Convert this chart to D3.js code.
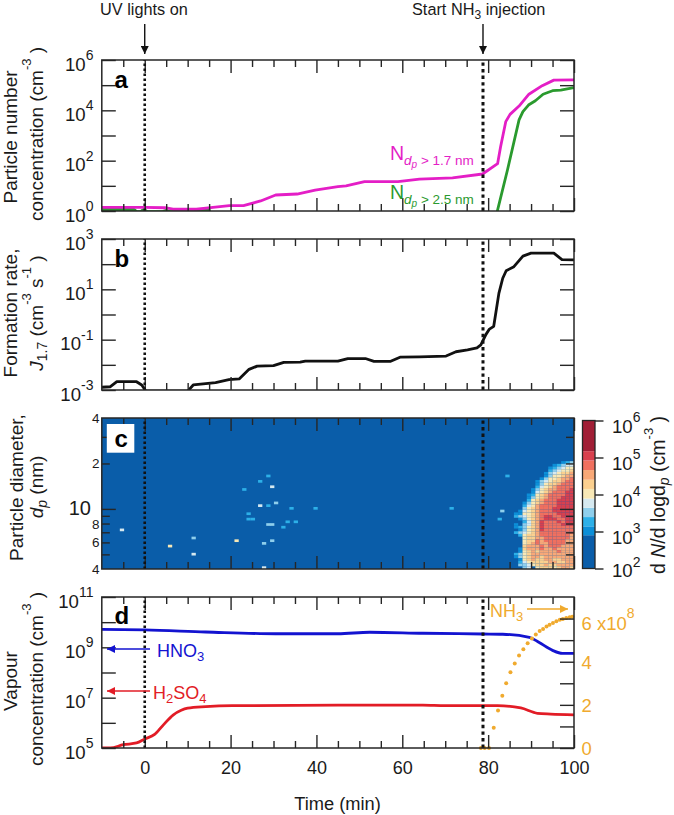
<!DOCTYPE html>
<html>
<head>
<meta charset="utf-8">
<script src="https://cdn.jsdelivr.net/npm/d3@7"></script>
<style>
  html, body { margin: 0; padding: 0; background: #fff; }
  svg { display: block; }
  text { font-family: "Liberation Sans", Arial, sans-serif; fill: #1a1a1a; }
  .tick line, .frame { stroke: #262626; }
  .tick line { stroke-width: 1.4; }
</style>
</head>
<body>
<div id="chart"></div>
<script>
// values, log10 values for the log panels
const nTotalTime = [-10, 0, 4.7, 6.6, 12, 15.9, 19.7, 23, 27, 30.5, 35.5, 39.7, 45, 46.9, 51.2, 59, 64, 71.7, 78.7, 82.2, 82.9, 84.1, 85.1, 87.2, 89.5, 92.6, 95.3, 100];
const nTotalLog = [0.147, 0.147, 0.13, 0.07, 0.07, 0.147, 0.21, 0.21, 0.4, 0.636, 0.675, 0.834, 0.965, 1.0, 1.165, 1.165, 1.27, 1.32, 1.47, 1.88, 2.55, 3.55, 3.84, 4.17, 4.64, 4.98, 5.2, 5.21];

const nLargeTime = [-10, -2.5, -1.8, -1, -0.5, 0, 0.6, 4, 5, 6, 11.5, 12.5, 15, 15.5, 82, 84.5, 87.2, 88.1, 89.4, 91, 92.8, 95, 96.9, 100];
const nLargeLog = [0.06, 0.06, -0.03, -0.03, 0.04, 0.04, -0.03, -0.03, 0.03, -0.03, -0.03, 0.05, 0.05, -0.3, -0.1, 1.63, 3.62, 3.95, 4.21, 4.38, 4.64, 4.78, 4.8, 4.9];

const rateTime = [-10, -8, -6.5, -1.9, -0.7, 0.3, 10, 11.3, 16.5, 19.6, 22, 24.3, 26.2, 30, 32.4, 36.2, 37.4, 45, 47.3, 51.4, 53.4, 57.3, 59.6, 64, 70.2, 72.5, 75.2, 77.4, 78.3, 79.5, 80.3, 81.3, 82.5, 83.4, 84.2, 86, 88.1, 90, 95.3, 97.2, 100];
const rateLog = [-2.89, -2.87, -2.67, -2.67, -2.8, -3.05, -3.05, -2.8, -2.71, -2.59, -2.56, -2.18, -2.05, -2.03, -1.9, -1.89, -1.85, -1.85, -1.75, -1.75, -1.86, -1.86, -1.69, -1.68, -1.65, -1.48, -1.41, -1.33, -1.21, -0.79, -0.58, -0.47, 0.84, 1.44, 1.74, 1.9, 2.32, 2.44, 2.44, 2.18, 2.17];

const hno3Time = [-10, 0, 14.2, 30.5, 45, 52.4, 64.8, 78.7, 83.4, 89.6, 91.9, 95, 97.3, 100];
const hno3Log = [9.715, 9.69, 9.61, 9.54, 9.54, 9.6, 9.56, 9.53, 9.52, 9.4, 9.19, 8.88, 8.76, 8.76];

const h2so4Time = [-10, -8, -5, -1.9, 0, 2.3, 4.3, 6.6, 8.5, 10, 14.2, 20.4, 45, 64.8, 70, 82.2, 87.6, 91.5, 94.6, 100];
const h2so4Log = [5, 5, 5.13, 5.2, 5.36, 5.54, 5.91, 6.31, 6.5, 6.58, 6.64, 6.68, 6.7, 6.7, 6.68, 6.68, 6.59, 6.38, 6.35, 6.32];

const nh3Time = [78.3, 79.2, 80.2, 81.3, 82.3, 83.3, 84.2, 85.2, 86.2, 87.2, 88.2, 89.2, 90.2, 91.1, 92, 92.8, 93.6, 94.3, 95.1, 95.9, 96.7, 97.4, 98.2, 99, 99.6];
const nh3Values = [0, 0, 0, 0.94, 1.74, 2.42, 3.0, 3.51, 3.92, 4.29, 4.58, 4.86, 5.08, 5.26, 5.42, 5.52, 5.63, 5.71, 5.8, 5.88, 5.94, 5.98, 6.03, 6.06, 6.08];

// colour bands of panel c, bottom to top
const bandEdges = [2.9, 3.14, 3.39, 3.64, 3.89, 4.15, 4.4, 4.66, 4.92, 5.17];
const bandColors = ["#0a5da9", "#0c8fd8", "#2db0e8", "#8fcfec", "#d6e9f0", "#f8e8b6", "#fbd08f", "#f8a877", "#f0705f", "#d8404e", "#a11f36"];

// plume of panel c: one string per size bin, top row first, one digit (band) per minute 85..99
const heatFirstMinute = 85;
const heatRows = [
  "000000000000123",
  "000000000012344",
  "000000000123455",
  "000000000234556",
  "000000001345667",
  "000000001355677",
  "000000013556778",
  "000000134566788",
  "000000135667888",
  "000000245678888",
  "000001356778889",
  "000001456788899",
  "000012567888899",
  "000013567888999",
  "000025678889999",
  "000135678889999",
  "000245788889999",
  "000356788899999",
  "001456788899999",
  "011556788889999",
  "023456789988999",
  "001356789998899",
  "000246798889899",
  "010346798888999",
  "012356798888888",
  "001356798888888",
  "023456788888888",
  "002566788888887",
  "000566778888887",
  "000566878888877",
  "000567877888877",
  "000677787888777",
  "001677787787777",
  "001567677778777",
  "023567777777777",
  "013567767777777",
  "001567667766777",
  "002456666776677",
  "003345667667777",
  "000340566656776"
];
// single bins outside the plume: minute, diameter (nm), band
const spotMinutes = [-5.8, 5.4, 10.9, 10.9, 20.9, 22.7, 23.7, 23.7, 24.7, 26.4, 28.3, 29.2, 30.1, 26.4, 28.3, 28.3, 29.2, 27.3, 29.2, 27.3, 31.8, 32.8, 34.7, 33.7, 39.3, 71, 84, 82.8, 82.2];
const spotDiameters = [7.25, 5.6, 6.5, 5.0, 6.25, 13.3, 9.3, 8.5, 8.7, 15.4, 16.6, 13.8, 11.1, 10.3, 10.3, 8.0, 8.0, 6.0, 6.25, 4.1, 7.7, 8.3, 8.3, 10.0, 10.0, 10.0, 16.6, 9.7, 8.7];
const spotBands = [4, 5, 3, 4, 5, 2, 2, 2, 2, 2, 2, 4, 3, 4, 2, 3, 3, 3, 3, 4, 2, 2, 2, 2, 2, 2, 2, 3, 2];

const xMajor = [0, 20, 40, 60, 80, 100];
const xMinor = [-5, 5, 10, 15, 25, 30, 35, 45, 50, 55, 65, 70, 75, 85, 90, 95];
const aTicks = [0, 1, 2, 3, 4, 5, 6];
const bTicks = [-3, -2, -1, 0, 1, 2, 3];
const dTicks = [5, 6, 7, 8, 9, 10, 11];
const cLong = [10];
const cShort = [5, 6, 7, 8, 9, 20, 30];
const cLabels = [[40, "4"], [20, "2"], [8, "8"], [6, "6"], [4, "4"]];
const nh3Ticks = [0, 1, 2, 3, 4, 5, 6];
const scaleTicks = [2, 3, 4, 5, 6];
const uvOn = 0;
const nh3On = 78.8;

const pink = "#e41ec6", green = "#2a9a2e", blue = "#1313d0", red = "#e21c26", orange = "#f0aa2e";
const fullW = 674, fullH = 815;

const svg = d3.select("#chart").append("svg").attr("width", fullW).attr("height", fullH);
const defs = svg.append("defs");
defs.append("marker").attr("id", "head").attr("viewBox", "0 0 10 10").attr("refX", 10).attr("refY", 5)
  .attr("markerUnits", "userSpaceOnUse").attr("markerWidth", 14).attr("markerHeight", 8).attr("orient", "auto")
  .append("path").attr("d", "M0,0L10,5L0,10Z").attr("fill", "context-stroke");

const x = d3.scaleLinear().domain([-10, 100]).range([101.8, 574]);
const left = x.range()[0], right = x.range()[1];

const yA = d3.scaleLog().domain([1, 1e6]).range([211, 60]);
const yB = d3.scaleLog().domain([1e-3, 1e3]).range([390, 239]);
const yC = d3.scaleLog().domain([4, 40]).range([569, 418]);
const yD = d3.scaleLog().domain([1e5, 1e11]).range([748, 597]);
const yN = d3.scaleLinear().domain([0, 7]).range([748, 597]);

// text with tspans: each part can be raised and sized
function rich(sel, parts) {
  let prev = 0;
  parts.forEach(p => {
    const rise = p.rise || 0;
    const t = sel.append("tspan").attr("dy", prev - rise).text(p.t);
    if (p.size) t.attr("font-size", p.size);
    if (p.italic) t.attr("font-style", "italic");
    prev = rise;
  });
  return sel;
}

function rotLabel(xBase, yMid, parts, size) {
  const t = svg.append("text")
    .attr("transform", `translate(${xBase},${yMid}) rotate(-90)`)
    .attr("text-anchor", "middle")
    .attr("font-size", size || 19);
  return rich(t, parts);
}

function drawXAxes(y0, y1, labels) {
  [[xMinor, 7], [xMajor, 13]].forEach(([vals, len]) => {
    svg.append("g").attr("transform", `translate(0,${y0})`)
      .call(d3.axisBottom(x).tickValues(vals).tickSize(-len).tickFormat(""))
      .call(g => g.select(".domain").remove());
    svg.append("g").attr("transform", `translate(0,${y1})`)
      .call(d3.axisTop(x).tickValues(vals).tickSize(-len).tickFormat(""))
      .call(g => g.select(".domain").remove());
  });
  if (labels) {
    svg.append("g").attr("transform", `translate(0,${y0})`)
      .call(d3.axisBottom(x).tickValues(xMajor).tickSize(0).tickPadding(13))
      .call(g => g.select(".domain").remove())
      .selectAll("text").attr("font-size", 18).attr("font-family", "Liberation Sans").attr("fill", "#1a1a1a");
  }
}

function powerAxis(scale, exps, right_too) {
  const vals = exps.map(e => Math.pow(10, e));
  const g = svg.append("g").attr("transform", `translate(${left},0)`)
    .call(d3.axisLeft(scale).tickValues(vals).tickSize(-14).tickFormat(""));
  g.select(".domain").remove();
  if (right_too) {
    svg.append("g").attr("transform", `translate(${right},0)`)
      .call(d3.axisRight(scale).tickValues(vals).tickSize(-14).tickFormat(""))
      .select(".domain").remove();
  }
  // labels only at every second power
  exps.filter((e, i) => i % 2 === 0).forEach(e => {
    const t = svg.append("text").attr("x", 93.5).attr("y", scale(Math.pow(10, e)) + 10.5)
      .attr("text-anchor", "end").attr("font-size", 18.6);
    rich(t, [{t: "10"}, {t: String(e), size: 14, rise: 10.5}]);
  });
}

function frame(y0, y1) {
  svg.append("rect").attr("class", "frame").attr("x", left).attr("y", y1)
    .attr("width", right - left).attr("height", y0 - y1)
    .attr("fill", "none").attr("stroke-width", 1.5);
}

function clipFor(id, y0, y1) {
  defs.append("clipPath").attr("id", id).append("rect")
    .attr("x", left).attr("y", y1).attr("width", right - left).attr("height", y0 - y1);
}

function dotted(y0, y1) {
  svg.append("line").attr("x1", x(uvOn)).attr("x2", x(uvOn)).attr("y1", y0).attr("y2", y1)
    .attr("stroke", "#111").attr("stroke-width", 2.6).attr("stroke-dasharray", "2.5,2.5");
  svg.append("line").attr("x1", x(nh3On)).attr("x2", x(nh3On)).attr("y1", y0).attr("y2", y1)
    .attr("stroke", "#111").attr("stroke-width", 3).attr("stroke-dasharray", "3.4,3.2");
}

function logLine(times, logs, scale, color, clip, curve) {
  const pts = times.map((t, i) => [t, Math.pow(10, logs[i])]);
  svg.append("path").datum(pts)
    .attr("d", d3.line().x(d => x(d[0])).y(d => scale(d[1])).curve(curve || d3.curveLinear))
    .attr("fill", "none").attr("stroke", color).attr("stroke-width", 2.8)
    .attr("stroke-linejoin", "round")
    .attr("clip-path", `url(#${clip})`);
}

function arrow(x1, y1, x2, y2, color, w) {
  svg.append("line").attr("x1", x1).attr("y1", y1).attr("x2", x2).attr("y2", y2)
    .attr("stroke", color).attr("stroke-width", w || 1.4).attr("marker-end", "url(#head)");
}

function panelLetter(letter, yBase) {
  svg.append("text").attr("x", 114.5).attr("y", yBase)
    .attr("font-size", 24).attr("font-weight", "bold").style("fill", "#000").text(letter);
}

// ---- panel a
clipFor("clipA", 211, 60);
logLine(nLargeTime, nLargeLog, yA, green, "clipA");
logLine(nTotalTime, nTotalLog, yA, pink, "clipA");
drawXAxes(211, 60);
powerAxis(yA, aTicks, true);
dotted(211, 60);
frame(211, 60);
panelLetter("a", 88);

rotLabel(17, 137, [{t: "Particle number"}]);
rotLabel(43, 134, [{t: "concentration (cm"}, {t: "-3", size: 13, rise: 12}, {t: " )"}]);

svg.append("text").attr("x", 100).attr("y", 14.5).attr("font-size", 16.3).text("UV lights on");
rich(svg.append("text").attr("x", 412).attr("y", 14.5).attr("font-size", 16.3),
  [{t: "Start NH"}, {t: "3", size: 12, rise: -4}, {t: " injection"}]);
arrow(x(uvOn), 24, x(uvOn), 54, "#111");
arrow(x(nh3On), 24, x(nh3On), 54, "#111");

rich(svg.append("text").attr("x", 390).attr("y", 160).attr("font-size", 19.5).style("fill", pink),
  [{t: "N"}, {t: "d", size: 13.5, italic: true, rise: -5}, {t: "p", size: 10, italic: true, rise: -8}, {t: " > 1.7 nm", size: 13.5, rise: -5}]);
rich(svg.append("text").attr("x", 390).attr("y", 199).attr("font-size", 19.5).style("fill", green),
  [{t: "N"}, {t: "d", size: 13.5, italic: true, rise: -5}, {t: "p", size: 10, italic: true, rise: -8}, {t: " > 2.5 nm", size: 13.5, rise: -5}]);

// ---- panel b
clipFor("clipB", 390, 239);
logLine(rateTime, rateLog, yB, "#111", "clipB");
drawXAxes(390, 239);
powerAxis(yB, bTicks, true);
dotted(390, 239);
frame(390, 239);
panelLetter("b", 267);

rotLabel(17, 313, [{t: "Formation rate,"}]);
rotLabel(43, 313, [{t: "J", italic: true}, {t: "1.7", size: 14, rise: -4}, {t: " (cm"}, {t: "-3", size: 13, rise: 12}, {t: " s"}, {t: "-1", size: 13, rise: 12}, {t: " )"}]);

// ---- panel c
const cbar = d3.scaleLog().domain([1e2, 1e6]).range([568.5, 420.5]);
const heatColor = d3.scaleThreshold().domain(bandEdges.map(e => Math.pow(10, e))).range(bandColors);
const rowsPerDecade = 56;
const bandValue = b => Math.pow(10, b === 0 ? 2.5 : (bandEdges[b - 1] + (bandEdges[b] || 5.6)) / 2);
const rowEdge = r => 4 * Math.pow(10, r / rowsPerDecade);

svg.append("rect").attr("x", left).attr("y", 418).attr("width", right - left).attr("height", 151)
  .attr("fill", heatColor(100));

const heatCells = [];
heatRows.forEach((row, i) => {
  const r = heatRows.length - 1 - i;
  row.split("").map(Number).forEach((band, j) => {
    if (band > 0) heatCells.push({minute: heatFirstMinute + j, r: r, band: band});
  });
});
spotMinutes.forEach((m, i) => {
  heatCells.push({
    minute: m,
    r: Math.floor(Math.log10(spotDiameters[i] / 4) * rowsPerDecade),
    band: spotBands[i]
  });
});

svg.append("g").selectAll("rect").data(heatCells).enter().append("rect")
  .attr("x", d => x(d.minute))
  .attr("width", d => x(d.minute + 1) - x(d.minute))
  .attr("y", d => yC(rowEdge(d.r + 1)))
  .attr("height", d => yC(rowEdge(d.r)) - yC(rowEdge(d.r + 1)))
  .attr("fill", d => heatColor(bandValue(d.band)));

drawXAxes(569, 418);
[[cLong, 14], [cShort, 8]].forEach(([vals, len]) => {
  svg.append("g").attr("transform", `translate(${left},0)`)
    .call(d3.axisLeft(yC).tickValues(vals).tickSize(-len).tickFormat(""))
    .select(".domain").remove();
  svg.append("g").attr("transform", `translate(${right},0)`)
    .call(d3.axisRight(yC).tickValues(vals).tickSize(-len).tickFormat(""))
    .select(".domain").remove();
});
svg.append("g").selectAll("text").data(cLabels).enter().append("text")
  .attr("x", 99.5).attr("y", d => yC(d[0]) + 5)
  .attr("text-anchor", "end").attr("font-size", 13.5).text(d => d[1]);
svg.append("text").attr("x", 91).attr("y", yC(10) + 6.5)
  .attr("text-anchor", "end").attr("font-size", 20).text("10");

dotted(569, 418);
frame(569, 418);
svg.append("rect").attr("x", 106.8).attr("y", 424).attr("width", 27.5).attr("height", 28.7).attr("fill", "#fff");
panelLetter("c", 446.5);

rotLabel(23, 487.5, [{t: "Particle diameter,"}]);
rotLabel(43, 487, [{t: "d", italic: true}, {t: "p", italic: true, size: 14, rise: -4}, {t: " (nm)"}]);

// colour bar
const barEdges = [2].concat(bandEdges, [6]);
svg.append("g").selectAll("rect").data(bandColors).enter().append("rect")
  .attr("x", 582.5).attr("width", 12.5)
  .attr("y", (d, i) => cbar(Math.pow(10, barEdges[i + 1])))
  .attr("height", (d, i) => cbar(Math.pow(10, barEdges[i])) - cbar(Math.pow(10, barEdges[i + 1])))
  .attr("fill", d => d);
svg.append("rect").attr("class", "frame").attr("x", 582.5).attr("y", cbar(1e6)).attr("width", 12.5)
  .attr("height", cbar(1e2) - cbar(1e6)).attr("fill", "none").attr("stroke-width", 1.3);
svg.append("g").attr("transform", "translate(595,0)")
  .call(d3.axisRight(cbar).tickValues(scaleTicks.map(e => Math.pow(10, e))).tickSize(8.5).tickFormat(""))
  .select(".domain").remove();
scaleTicks.forEach(e => {
  const t = svg.append("text").attr("x", 612).attr("y", cbar(Math.pow(10, e)) + (e === 2 ? 8.5 : 12)).attr("font-size", 18.6);
  rich(t, [{t: "10"}, {t: String(e), size: 14, rise: 10.5}]);
});
rotLabel(665, 495, [{t: "d "}, {t: "N", italic: true}, {t: "/d logd"}, {t: "p", italic: true, size: 14, rise: -4}, {t: " (cm"}, {t: "-3", size: 13, rise: 12}, {t: " )"}], 19.5);

// ---- panel d
clipFor("clipD", 748, 597);
logLine(hno3Time, hno3Log, yD, blue, "clipD", d3.curveMonotoneX);
logLine(h2so4Time, h2so4Log, yD, red, "clipD", d3.curveMonotoneX);
svg.append("g").selectAll("circle").data(nh3Values).enter().append("circle")
  .attr("cx", (d, i) => x(nh3Time[i])).attr("cy", d => yN(d)).attr("r", 2).attr("fill", orange);

drawXAxes(748, 597, true);
powerAxis(yD, dTicks, false);
svg.append("g").attr("transform", `translate(${right},0)`)
  .call(d3.axisRight(yN).tickValues(nh3Ticks).tickSize(-14).tickFormat(""))
  .select(".domain").remove();
dotted(748, 597);
frame(748, 597);
panelLetter("d", 624);

[[0, 7], [2, 7], [4, 7], [6, 11]].forEach(([v, dy]) => {
  const t = svg.append("text").attr("x", 581.5).attr("y", yN(v) + dy).attr("font-size", 18.5).style("fill", orange);
  if (v === 6) rich(t, [{t: "6 x10"}, {t: "8", size: 14, rise: 12}]);
  else t.text(v);
});

rotLabel(17, 681, [{t: "Vapour"}]);
rotLabel(43, 679, [{t: "concentration (cm"}, {t: "-3", size: 13, rise: 12}, {t: " )"}]);

arrow(150, 649, 107, 649, blue);
rich(svg.append("text").attr("x", 157).attr("y", 657).attr("font-size", 18).style("fill", blue),
  [{t: "HNO"}, {t: "3", size: 13, rise: -4}]);
arrow(150, 691, 107, 691, red);
rich(svg.append("text").attr("x", 153).attr("y", 699).attr("font-size", 18).style("fill", red),
  [{t: "H"}, {t: "2", size: 13, rise: -4}, {t: "SO"}, {t: "4", size: 13, rise: -4}]);
arrow(527, 609, 568, 609, orange);
rich(svg.append("text").attr("x", 490).attr("y", 616.5).attr("font-size", 18).style("fill", orange),
  [{t: "NH"}, {t: "3", size: 13, rise: -4}]);

svg.append("text").attr("x", 337.5).attr("y", 810).attr("text-anchor", "middle").attr("font-size", 18.3).text("Time (min)");
</script>
</body>
</html>
